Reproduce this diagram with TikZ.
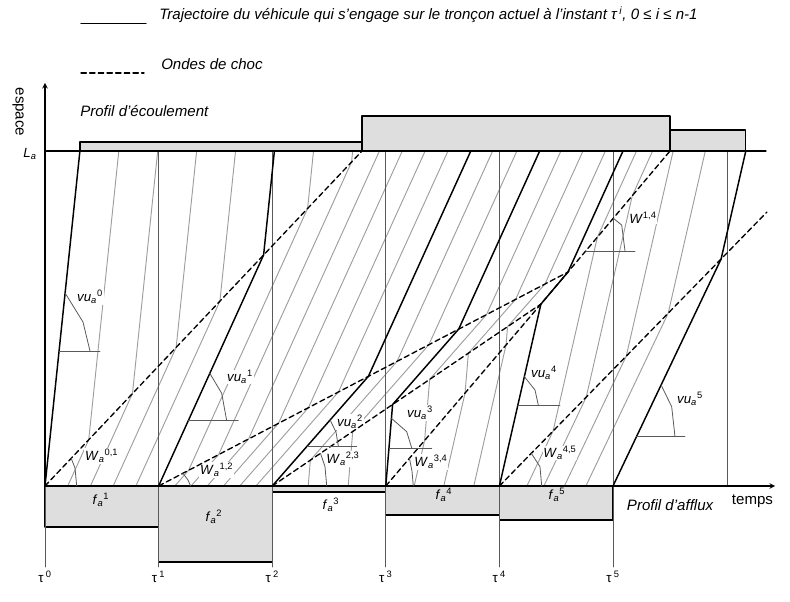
\documentclass[tikz,border=0pt]{standalone}
\usepackage{fontspec}
\setmainfont{Liberation Sans}
\definecolor{vehgray}{gray}{0.62}
\definecolor{boxgray}{gray}{0.87}
\newcommand{\qlab}[3]{\textit{#1}\textsubscript{\textit{#2}}\textsuperscript{#3}}
\begin{document}
\begin{tikzpicture}[line cap=round, line join=round, font=\normalsize, >=stealth, x=0.75pt, y=0.75pt]
	\tikzset{veh/.style={vehgray, line width=0.7pt},
		traj/.style={black, line width=1.1pt},
		shock/.style={black, line width=1pt, dash pattern=on 4pt off 2.5pt},
		anglemark/.style={gray!70!black, line width=0.6pt},
		tauline/.style={gray!70!black, line width=0.6pt},
		flowbox/.style={draw=black, fill=boxgray, line width=1pt},
		lbl/.style={fill=white, inner sep=0.6pt},
		txt/.style={font=\fontsize{11.3pt}{13.5pt}\selectfont, inner sep=0pt}}
	\useasboundingbox (-45,-115) rectangle (745,486);
	% legende
	\node[txt, anchor=base west] (legtraj) at (114,466) {\itshape Trajectoire du véhicule qui s’engage sur le tronçon actuel à l’instant τ\,\textsuperscript{i}, 0 ≤ i ≤ n-1};
	\draw[traj] (legtraj.base west) ++(-78,-3.4) -- ++(65,0);
	\node[txt, anchor=base west] (legshock) at (116,416.6) {\itshape Ondes de choc};
	\draw[shock] (legshock.base west) ++(-80,-3.6) -- ++(63,0);
	% profils d'afflux et d'ecoulement
	\draw[flowbox] (0,0) rectangle (113.6,-41);
	\draw[flowbox] (113.6,0) rectangle (227.2,-76);
	\draw[flowbox] (227.2,0) rectangle (340.8,-6);
	\draw[flowbox] (340.8,0) rectangle (454.4,-29);
	\draw[flowbox] (454.4,0) rectangle (568,-34);
	\draw[flowbox] (34.9,335) rectangle (317,344);
	\draw[flowbox] (317,335) rectangle (625,370);
	\draw[flowbox] (625,335) rectangle (700.8,356);
	\foreach \i in {0,...,5} \coordinate (t\i) at (113.6*\i,0);
	\coordinate (P24) at (495.9,181.9);
	\coordinate (P14) at (523,214);
	% vehicules
	\foreach \a in {22.72,45.44,68.16,90.88}
		\draw[veh] (\a,0) -- ({1.9244*\a},{2.0337*\a}) -- ({34.9+1.7126*\a},335);
	\foreach \d in {16.23,32.46}
		\draw[veh] ({113.6+\d},0) -- ({113.6+1.8468*\d},{0.9653*\d}) -- ({218.6+2.7097*\d},{231+2.8636*\d}) -- ({229.4+2.4114*\d},335);
	\foreach \d in {48.69,64.91,81.14,97.37}
		\draw[veh] ({113.6+\d},0) -- ({113.6+1.8468*\d},{0.9653*\d}) -- ({265.9+1.408*\d},335);
	\foreach \e in {36,76}
		\draw[veh] ({227.2+\e},0) -- ({227.2+1.0598*\e},{0.7175*\e}) -- ({323.4+0.7949*\e},{109.66+0.4155*\e}) -- ({425.83+0.606*\e},335);
	\foreach \g in {28.4,58,88}
		\draw[veh] ({340.8+\g},0) -- ({340.8+1.3663*\g},{1.6027*\g}) -- ({347.6+1.3065*\g},{81.51+0.8845*\g}) -- ({413.7+0.98*\g},{156.86+0.5122*\g}) -- ({494.67+0.7471*\g},335);
	\foreach \h in {27.5,44.5}
		\draw[veh] ({454.4+\h},0) -- ({454.4+1.9517*\h},{1.9985*\h}) -- ({496+2.0509*\h},{181.98+2.4323*\h}) -- ({565.55+0.9453*\h},335);
	\foreach \h in {65,86.5}
		\draw[veh] ({454.4+\h},0) -- ({454.4+1.9517*\h},{1.9985*\h}) -- ({531+1.4949*\h},335);
	% instants
	\draw[tauline] (0,-81) -- (t0);
	\foreach \i in {1,...,5} \draw[tauline] (113.6*\i,-81) -- (113.6*\i,335);
	\draw[tauline] (682,0) -- (682,335);
	\foreach \i in {0,...,5} \node (tau\i) at (113.6*\i,-91) {τ\,\textsuperscript{\i}};
	% etiquettes
	\node[lbl] (vu0) at (45,189) {\qlab{vu}{a}{0}};
	\node[lbl] (vu1) at (195,109) {\qlab{vu}{a}{1}};
	\node[lbl] (vu2) at (305,64) {\qlab{vu}{a}{2}};
	\node[lbl] (vu3) at (375,73) {\qlab{vu}{a}{3}};
	\node[lbl] (vu4) at (499,113) {\qlab{vu}{a}{4}};
	\node[lbl] (vu5) at (645,87) {\qlab{vu}{a}{5}};
	\node[lbl] (W01) at (56.7,30) {\qlab{W}{a}{0,1}};
	\node[lbl] (W12) at (171.7,16) {\qlab{W}{a}{1,2}};
	\node[lbl] (W23) at (298,27) {\qlab{W}{a}{2,3}};
	\node[lbl] (W34) at (386,24) {\qlab{W}{a}{3,4}};
	\node[lbl] (W45) at (515,33) {\qlab{W}{a}{4,5}};
	\node[lbl] (W14) at (598,268) {\textit{W}\textsuperscript{1,4}};
	\node (f1) at (56,-14) {\qlab{f}{a}{1}};
	\node (f2) at (169,-31) {\qlab{f}{a}{2}};
	\node (f3) at (286,-19) {\qlab{f}{a}{3}};
	\node (f4) at (399,-9) {\qlab{f}{a}{4}};
	\node (f5) at (512,-9) {\qlab{f}{a}{5}};
	\node[txt, anchor=base west] (ecoul) at (35,369) {\itshape Profil d’écoulement};
	\node[txt, anchor=base west] (afflux) at (581.7,-24) {\itshape Profil d’afflux};
	\node[txt, anchor=base west] (temps) at (686.7,-18) {temps};
	\node[txt, rotate=-90] (espace) at (-27,374) {espace};
	\node (La) at (-15,332) {\textit{L}\textsubscript{\textit{a}}};
	% axes
	\coordinate (yend) at (0,403);
	\coordinate (xend) at (730,0);
	\draw[line width=0.8pt] (0,335) -- (721,335);
	\draw[->, line width=0.8pt] (t0) -- (yend);
	\draw[->, line width=0.8pt] (t0) -- (xend);
	% trajectoires
	\draw[traj] (t0) -- (34.9,335);
	\draw[traj] (t1) -- (218.6,231) -- (229.4,335);
	\draw[traj] (t2) -- (323.4,109.7) -- (425.8,335);
	\draw[traj] (t3) -- (347.6,81.5) -- (413.7,156.9) -- (494.7,335);
	\draw[traj] (t4) -- (P24) -- (P14) -- (578,335);
	\draw[traj] (t5) -- (676.1,227) -- (700.8,335);
	% ondes de choc
	\draw[shock] (t0) -- (317,335);
	\draw[shock] (t1) -- (P14);
	\draw[shock] (t2) -- (P24);
	\draw[shock] (t3) -- (P24) -- (P14) -- (625,335);
	\draw[shock] (t4) -- (722,274);
	% angles
	\draw[anglemark] (14.1,135) -- (55,135);
	\draw[anglemark] (20.1,193) -- (38,164) -- (45,135);
	\draw[anglemark] (143.3,65.3) -- (193.3,65.3);
	\draw[anglemark] (164.8,112.7) -- (176.7,92.7) -- (181.7,65.3);
	\draw[anglemark] (262.3,40) -- (311.7,40);
	\draw[anglemark] (285.1,66) -- (291,54) -- (293.3,40);
	\draw[anglemark] (344,38) -- (386.7,38);
	\draw[anglemark] (346.4,67.7) -- (361.7,54.3) -- (366.7,38);
	\draw[anglemark] (472.9,81) -- (515,81);
	\draw[anglemark] (479.4,109.3) -- (490,96) -- (493.3,81);
	\draw[anglemark] (591.5,49.3) -- (640,49.3);
	\draw[anglemark] (616.1,101) -- (626.7,79.3) -- (630,49.3);
	\draw[anglemark] (26.2,27.7) -- (30,18) -- (31.7,0);
	\draw[anglemark] (137.9,12.7) -- (143,6) -- (145.7,0);
	\draw[anglemark] (275.5,32.7) -- (280,19.3) -- (281.7,0);
	\draw[anglemark] (364.4,27.7) -- (367,15) -- (368.3,0);
	\draw[anglemark] (486.3,32.7) -- (495,19.3) -- (496.7,0);
	\draw[anglemark] (540.7,235) -- (590,235);
	\draw[anglemark] (568.3,267.7) -- (576.7,261) -- (580,235);
\end{tikzpicture}
\end{document}
